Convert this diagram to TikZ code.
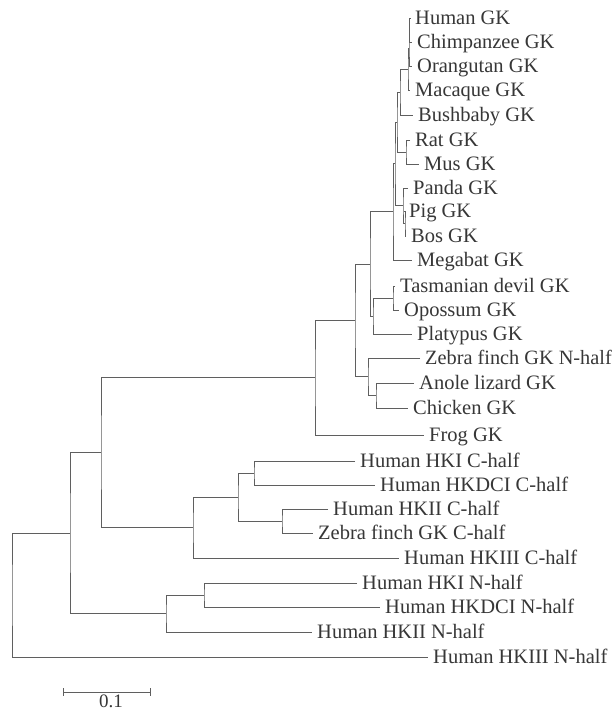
\documentclass[tikz,border=0pt]{standalone}
\usepackage{fontspec}
\setmainfont{Liberation Serif}
\definecolor{linegray}{RGB}{95,95,95}
\definecolor{textgray}{RGB}{55,55,55}
\newcommand\leafnode[4]{%
  \coordinate (#1) at (#2,#3);
  \node[leaf] (#1t) at (#2+5,#3+6.5) {#4};}
\newcommand\clade[3]{\draw[branch] (#2) -| (#1) |- (#3);}
\begin{document}
\begin{tikzpicture}[x=1pt,y=-1pt,
  branch/.style={draw=linegray, line width=1pt},
  leaf/.style={anchor=base west, inner sep=0pt, text=textgray, font=\fontsize{20.5}{24}\selectfont},
  scalelbl/.style={anchor=base, inner sep=0pt, text=textgray, font=\fontsize{19}{22}\selectfont}]
\useasboundingbox (0,0) rectangle (612,713);
\fill[white] (0,0) rectangle (612,713);
% leaves
\leafnode{L1}{410}{18}{Human GK}
\leafnode{L2}{412}{42}{Chimpanzee GK}
\leafnode{L3}{412}{66}{Orangutan GK}
\leafnode{L4}{410}{90}{Macaque GK}
\leafnode{L5}{413}{115}{Bushbaby GK}
\leafnode{L6}{410}{140}{Rat GK}
\leafnode{L7}{419}{164}{Mus GK}
\leafnode{L8}{408}{188}{Panda GK}
\leafnode{L9}{404}{211}{Pig GK}
\leafnode{L10}{406}{236}{Bos GK}
\leafnode{L11}{412}{260}{Megabat GK}
\leafnode{L12}{395}{286}{Tasmanian devil GK}
\leafnode{L13}{399}{310}{Opossum GK}
\leafnode{L14}{412}{334}{Platypus GK}
\leafnode{L15}{420}{358}{\fontsize{20.3}{24}\selectfont Zebra finch GK N-half}
\leafnode{L16}{414}{383}{Anole lizard GK}
\leafnode{L17}{408}{408}{Chicken GK}
\leafnode{L18}{424}{435}{Frog GK}
\leafnode{L19}{355}{461}{Human HKI C-half}
\leafnode{L20}{375}{485}{Human HKDCI C-half}
\leafnode{L21}{328}{509}{Human HKII C-half}
\leafnode{L22}{313}{533}{Zebra finch GK C-half}
\leafnode{L23}{399}{558}{Human HKIII C-half}
\leafnode{L24}{357}{583}{Human HKI N-half}
\leafnode{L25}{380}{607}{Human HKDCI N-half}
\leafnode{L26}{312}{632}{Human HKII N-half}
\leafnode{L27}{428}{657}{Human HKIII N-half}
% internal nodes
\coordinate (nHC) at (409.5,30);
\coordinate (nHCO) at (409,48);
\coordinate (nPrim) at (408,69);
\coordinate (nPB) at (400,92);
\coordinate (nRod) at (406,152);
\coordinate (nEuA) at (397,122);
\coordinate (nPB2) at (405,223.5);
\coordinate (nPan) at (403,205.75);
\coordinate (nEuB) at (395,163.9);
\coordinate (nEu) at (393,211.9);
\coordinate (nMars) at (393,298);
\coordinate (nMP) at (373,316);
\coordinate (nMam) at (370,264);
\coordinate (nAC) at (376,395.5);
\coordinate (nBird) at (368,376.75);
\coordinate (nAmn) at (355,320.4);
\coordinate (nTet) at (315,377.7);
\coordinate (nC1) at (254,473);
\coordinate (nC2) at (282,521);
\coordinate (nC3) at (238,497);
\coordinate (nC) at (193,527.5);
\coordinate (nGKC) at (101,452.6);
\coordinate (nN1) at (204,595);
\coordinate (nN) at (166,613.5);
\coordinate (nA) at (70,533);
\coordinate (root) at (12,595);
% clades
\clade{nHC}{L1}{L2}
\clade{nHCO}{nHC}{L3}
\clade{nPrim}{nHCO}{L4}
\clade{nPB}{nPrim}{L5}
\clade{nRod}{L6}{L7}
\clade{nEuA}{nPB}{nRod}
\clade{nPB2}{L9}{L10}
\clade{nPan}{L8}{nPB2}
\clade{nEuB}{nEuA}{nPan}
\clade{nEu}{nEuB}{L11}
\clade{nMars}{L12}{L13}
\clade{nMP}{nMars}{L14}
\clade{nMam}{nEu}{nMP}
\clade{nAC}{L16}{L17}
\clade{nBird}{L15}{nAC}
\clade{nAmn}{nMam}{nBird}
\clade{nTet}{nAmn}{L18}
\clade{nC1}{L19}{L20}
\clade{nC2}{L21}{L22}
\clade{nC3}{nC1}{nC2}
\clade{nC}{nC3}{L23}
\clade{nGKC}{nTet}{nC}
\clade{nN1}{L24}{L25}
\clade{nN}{nN1}{L26}
\clade{nA}{nGKC}{nN}
\clade{root}{nA}{L27}
% scale bar
\coordinate (sb1) at (63,692);
\coordinate (sb2) at (150,692);
\draw[branch] (sb1) -- (sb2);
\draw[branch] ([yshift=4pt]sb1) -- ([yshift=-4pt]sb1);
\draw[branch] ([yshift=4pt]sb2) -- ([yshift=-4pt]sb2);
\node[scalelbl] (sbl) at (111,707) {0.1};
\end{tikzpicture}
\end{document}
